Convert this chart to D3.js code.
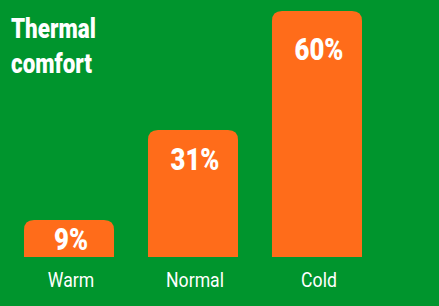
<!DOCTYPE html>
<html>
<head>
<meta charset="utf-8">
<script src="https://cdn.jsdelivr.net/npm/d3@7"></script>
<style>
  html, body { margin: 0; padding: 0; background: #00952d; }
  svg { display: block; }
  text { font-family: "Roboto", "Liberation Sans", sans-serif; fill: #fff; }
</style>
</head>
<body>
<div class="chart"></div>
<script>
const categories = ['Warm', 'Normal', 'Cold']
const values = [9, 31, 60]
const titleLines = ['Thermal', 'comfort']

const width = 439
const height = 306
const baseline = 257
const radius = 10

var xScale = d3.scaleBand()
  .domain(categories)
  .range([24, 362])
  .paddingInner(0.274)
  .paddingOuter(0)

var yScale = d3.scaleLinear()
  .domain([0, 60])
  .range([baseline, 11])

const svg = d3.select('.chart')
  .append('svg')
  .attr('width', width)
  .attr('height', height)

svg.append('rect')
  .attr('width', width)
  .attr('height', height)
  .attr('fill', '#00952d')

// bars with rounded top corners only
function barPath(x, y, w, h, r) {
  return 'M' + x + ',' + (y + h) +
    'V' + (y + r) +
    'Q' + x + ',' + y + ' ' + (x + r) + ',' + y +
    'H' + (x + w - r) +
    'Q' + (x + w) + ',' + y + ' ' + (x + w) + ',' + (y + r) +
    'V' + (y + h) + 'Z'
}

// condensed look: squeeze text horizontally
function squeeze(x, y, sx) {
  return 'translate(' + x + ',' + y + ') scale(' + sx + ',1)'
}

var data = categories.map((c, i) => ({ cat: c, val: values[i] }))

svg.selectAll('.bar')
  .data(data)
  .enter()
  .append('path')
  .attr('class', 'bar')
  .attr('fill', '#ff6c1a')
  .attr('d', d => barPath(xScale(d.cat), yScale(d.val), xScale.bandwidth(), baseline - yScale(d.val), radius))

svg.selectAll('.val')
  .data(data)
  .enter()
  .append('text')
  .attr('class', 'val')
  .attr('transform', d => squeeze(xScale(d.cat) + xScale.bandwidth() / 2 + 2, yScale(d.val) + 18 + 4 * Math.sqrt(d.val), 0.83))
  .attr('text-anchor', 'middle')
  .style('font-size', '31px')
  .style('font-weight', '900')
  .text(d => d.val + '%')

svg.selectAll('.cat')
  .data(data)
  .enter()
  .append('text')
  .attr('class', 'cat')
  .attr('transform', d => squeeze(xScale(d.cat) + xScale.bandwidth() / 2 + 2, 287, 0.84))
  .attr('text-anchor', 'middle')
  .style('font-size', '21px')
  .text(d => d.cat)

svg.selectAll('.title')
  .data(titleLines)
  .enter()
  .append('text')
  .attr('class', 'title')
  .attr('transform', (d, i) => squeeze(11, 38 + i * 35, 0.8))
  .style('font-size', '28px')
  .style('font-weight', '900')
  .text(d => d)
</script>
</body>
</html>
